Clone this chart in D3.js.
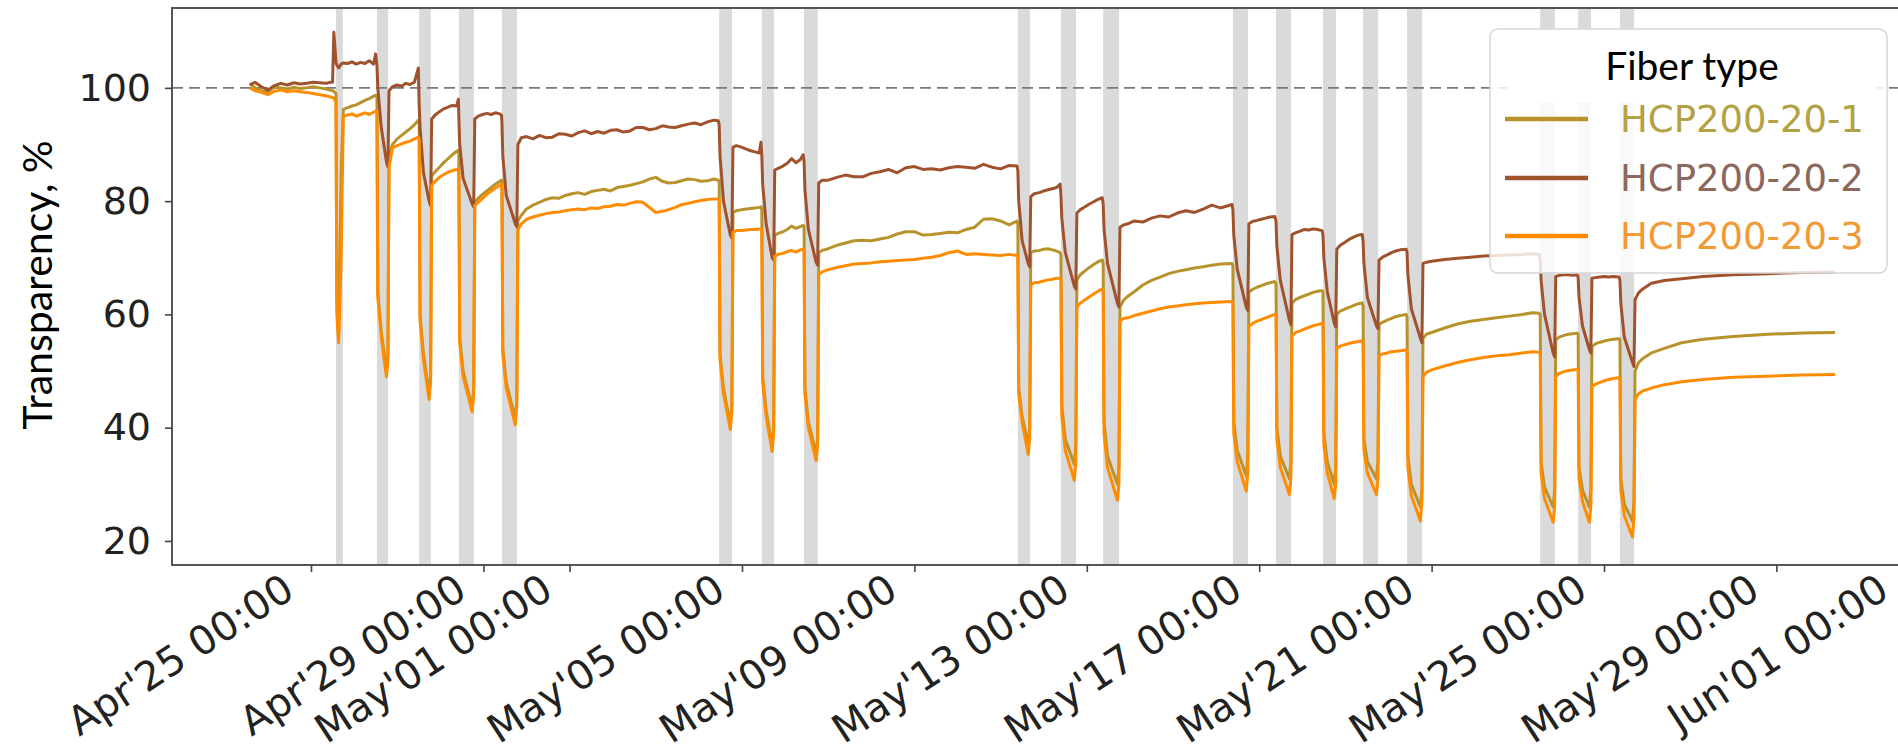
<!DOCTYPE html>
<html><head><meta charset="utf-8">
<script src="https://cdn.jsdelivr.net/npm/d3@7"></script>
<style>body{margin:0;background:#fff;} svg{display:block;}</style>
</head><body><svg id="chart" width="1898" height="754"></svg>
<script>
// ---------------- DATA ----------------
const seriesNames = ["HCP200-20-1", "HCP200-20-2", "HCP200-20-3"];

// time, in days after Apr 25 00:00
const days = [
  -1.42,-1.3,-1.15,-1.0,-0.85,-0.7,-0.55,-0.4,-0.25,-0.1,0.05,0.2,0.35,0.45,
  0.50,0.53,0.58,0.60,0.64,0.70,0.75,
  0.85,0.95,1.05,1.15,1.25,1.35,1.45,1.50,
  1.53,1.55,1.63,1.75,1.785,1.81,1.89,
  2.0,2.1,2.2,2.3,2.4,2.49,
  2.51,2.53,2.61,2.74,2.775,2.80,2.88,
  2.98,3.08,3.18,3.28,3.38,3.42,
  3.43,3.45,3.53,3.74,3.775,3.80,3.88,
  3.98,4.08,4.18,4.28,4.38,4.42,
  4.43,4.45,4.53,4.74,4.775,4.80,4.88,
  5.0,5.15,5.3,5.45,5.6,5.75,5.9,6.05,6.2,6.35,6.5,6.65,6.8,6.95,7.1,7.25,7.4,7.55,7.7,7.85,8.0,8.15,8.3,8.45,8.6,8.75,8.9,9.05,9.2,9.35,9.45,
  9.47,9.49,9.57,9.73,9.765,9.79,9.87,
  10.0,10.1,10.2,10.3,10.4,10.44,
  10.46,10.48,10.56,10.70,10.735,10.76,10.84,
  10.95,11.05,11.15,11.25,11.35,11.42,
  11.44,11.46,11.54,11.72,11.755,11.78,11.86,
  12.0,12.2,12.4,12.6,12.8,13.0,13.2,13.4,13.6,13.8,14.0,14.2,14.4,14.6,14.8,15.0,15.2,15.4,15.6,15.8,16.0,16.2,16.38,
  16.40,16.42,16.50,16.64,16.675,16.70,16.78,
  16.9,17.0,17.1,17.2,17.3,17.38,
  17.40,17.42,17.50,17.71,17.745,17.77,17.85,
  17.96,18.06,18.16,18.26,18.36,
  18.38,18.40,18.48,18.71,18.745,18.77,18.85,
  18.95,19.1,19.3,19.5,19.7,19.9,20.1,20.3,20.5,20.7,20.9,21.1,21.37,
  21.39,21.41,21.49,21.70,21.735,21.76,21.84,
  21.95,22.05,22.15,22.25,22.36,
  22.39,22.41,22.49,22.70,22.735,22.76,22.84,
  22.95,23.05,23.15,23.25,23.35,23.46,
  23.48,23.50,23.58,23.74,23.775,23.80,23.88,
  24.0,24.1,24.2,24.3,24.39,
  24.41,24.43,24.51,24.72,24.755,24.78,24.86,
  24.97,25.07,25.17,25.27,25.41,
  25.43,25.45,25.53,25.74,25.775,25.80,25.88,
  26.0,26.3,26.6,26.9,27.2,27.5,27.8,28.1,28.35,28.5,
  28.52,28.54,28.62,28.82,28.855,28.88,28.96,
  29.07,29.17,29.27,29.38,
  29.40,29.42,29.50,29.66,29.695,29.72,29.80,
  29.91,30.01,30.11,30.21,30.35,
  30.37,30.39,30.47,30.66,30.695,30.72,30.80,
  30.9,31.1,31.4,31.8,32.3,33.0,33.8,34.6,35.36
];

// HCP200-20-1 (gold)
const hcp1 = [
  100.8,100.0,99.5,99.2,100.2,100.0,99.8,100.1,99.9,100.0,100.2,100.0,99.8,99.6,
  99.5,99.4,99,62,56,85,96.2,
  96.5,96.8,97.0,97.4,97.8,98.1,98.5,98.7,
  98.5,64,57,50,53,88,90,
  91.0,91.6,92.2,92.8,93.5,94.3,
  93.5,60,53,46,49,84.5,85.2,
  86.0,86.8,87.5,88.2,88.8,89.0,
  88.5,56,50,43.5,47,79.8,80.5,
  81.2,81.8,82.4,83.0,83.5,83.7,
  83.5,54,48,41.5,45,76.5,77.5,
  78.6,79.3,79.8,80.3,80.6,80.5,81.0,81.3,81.5,81.2,81.7,81.9,82.1,81.8,82.4,82.6,82.8,83.1,83.4,83.9,84.2,83.5,83.2,83.3,83.6,83.9,83.8,83.5,83.6,83.9,83.7,
  83.5,53,47,40.5,44,78,78.3,
  78.5,78.6,78.7,78.8,78.9,79.0,
  78.5,49,43,37,40,74,74.3,
  74.6,75.0,75.6,75.2,75.5,75.7,
  75.5,47,41,35.5,38,70.9,71.3,
  71.6,72.2,72.6,73.0,73.1,73.0,73.3,73.6,74.2,74.6,74.6,74.0,74.1,74.3,74.5,74.4,75.0,75.4,76.8,76.9,76.5,75.8,76.5,
  76,47,42,37,40,70.9,71.2,
  71.3,71.5,71.6,71.4,71.2,70.9,
  70.5,44,38,33.5,37,66.1,67,
  67.7,68.3,68.8,69.3,69.6,
  69,41,35,30,33,61.3,62.5,
  63.2,64.0,65.2,66.0,66.6,67.2,67.6,67.9,68.2,68.4,68.7,68.9,69.0,
  68.5,41,36,31.5,35,63.9,64.4,
  64.8,65.1,65.4,65.6,65.8,
  65.5,40,35,31,34,62,62.6,
  63.0,63.3,63.6,63.9,64.1,64.2,
  64,39,34,30,33,60,60.6,
  61.0,61.3,61.6,61.9,62.0,
  61.5,38,34,31,34,58.2,58.6,
  59.0,59.3,59.6,59.8,60.0,
  59.5,35,30,26,29,55.8,56.5,
  56.8,57.6,58.3,58.8,59.1,59.4,59.7,60.0,60.3,60.2,
  60,34,29.5,26,29,55.5,56,
  56.3,56.5,56.6,56.7,
  56.5,33,29,26,29,54.3,54.8,
  55.1,55.3,55.5,55.6,55.7,
  55.5,31,26.5,23.5,27,50,51.5,
  52.2,53.2,54.0,55.0,55.6,56.1,56.5,56.7,56.8
];

// HCP200-20-2 (brown)
const hcp2 = [
  100.5,101.0,100.2,99.6,100.4,100.8,100.5,100.9,100.7,100.8,101.0,100.9,100.8,101.0,
  101,109.8,104.5,104,103.5,104.2,104.4,
  104.3,104.6,104.2,104.5,104.3,104.8,104.2,106.0,
  104,100,93,87,86,99.5,100.2,
  100.5,100.3,100.8,100.6,101.0,103.5,
  97,93,85,80,79.2,94.5,95.2,
  95.8,96.3,96.6,96.9,96.8,98.0,
  95,90,84,79.5,79,94.5,95,
  95.3,95.5,95.3,95.6,95.4,95.2,
  94,88,81,76,75.5,90,91.2,
  91.4,91.0,91.6,91.2,91.3,91.9,91.8,91.5,92.1,92.4,91.9,92.3,92.0,92.5,92.6,92.2,92.4,93.0,93.0,92.6,92.8,93.3,93.1,93.0,93.3,93.6,93.8,93.5,94.0,94.3,94.2,
  93.5,88,80,74,73.5,89.5,89.8,
  89.5,89.2,88.9,88.7,88.5,90.4,
  88,83,76,70,69.6,85.5,85.8,
  86.2,86.7,87.5,86.8,87.3,88.2,
  87,82,75,69.2,68.7,83.2,83.7,
  83.7,84.2,84.6,84.3,84.3,84.9,85.2,85.6,85.0,85.9,86.1,85.6,85.7,85.5,85.9,86.1,86.0,85.8,86.5,86.0,85.7,86.3,86.2,
  85.5,80,73,69,68.4,80.8,81.3,
  81.5,81.8,82.0,82.2,82.4,83.0,
  81,77,71,65,64.5,77.9,78.5,
  79.0,79.5,79.9,80.3,80.6,
  79.5,75,69,62,61.3,75.4,75.8,
  76.0,76.5,76.3,77.0,77.4,77.2,77.9,78.3,78.0,78.6,79.3,78.8,79.4,
  78.5,74,68,61.3,60.7,76,76.4,
  76.6,76.8,77.0,77.2,77.3,
  76.5,72,66,59,58.2,74.1,74.4,
  74.7,75.0,74.9,75.1,75.0,74.8,
  74,70,64,58.5,57.8,71.5,72.2,
  72.8,73.3,73.7,74.0,74.1,
  73,69,63,58,57.5,69.6,70.1,
  70.5,70.9,71.2,71.4,71.5,
  71,67,61,55.8,55,69,69.2,
  69.4,69.7,69.9,70.1,70.3,70.4,70.5,70.6,70.7,70.6,
  69.5,66,60,53.2,52.5,66.7,66.9,
  67.0,67.0,66.9,67.0,
  66.5,63,58,53.8,53.2,66.4,66.5,
  66.6,66.7,66.6,66.7,66.6,
  66,62,56,51.5,50.8,62.6,63.8,
  64.5,65.5,66.0,66.3,66.7,67.0,67.2,67.4,67.5
];

// HCP200-20-3 (orange)
const hcp3 = [
  100.0,99.5,99.2,98.8,99.4,99.6,99.3,99.5,99.3,99.2,99.0,98.8,98.6,98.4,
  98.3,98.2,97.5,60,55,70,95.0,
  95.2,95.4,95.0,95.3,95.6,95.3,95.7,95.9,
  95.8,63,56,49,52,86,89.4,
  89.8,90.1,90.4,90.6,91.0,91.3,
  91,59,52,45,48,82.8,83.5,
  84.2,84.7,85.1,85.4,85.6,85.7,
  85.4,55,49,42.8,46,79.2,79.8,
  80.5,81.2,81.8,82.3,82.8,83.0,
  82.8,53,47,40.5,44,75,76,
  76.8,77.2,77.5,77.8,78.0,78.1,78.3,78.5,78.6,78.5,78.8,78.7,79.0,79.1,79.4,79.3,79.6,79.9,79.8,78.9,78.0,78.2,78.5,78.9,79.4,79.6,79.9,80.1,80.3,80.4,80.4,
  80.3,52,46,39.7,43,74.5,74.8,
  74.8,74.9,75.0,75.0,75.1,75.1,
  75,48,42,35.8,39,70.3,70.6,
  70.8,71.1,71.3,71.0,71.4,71.5,
  71.4,46,40,34.2,37,67.1,67.5,
  67.9,68.3,68.6,68.9,69.0,69.1,69.3,69.4,69.5,69.6,69.7,69.9,70.1,70.4,70.9,71.2,70.6,70.7,70.6,70.5,70.4,70.6,70.4,
  70.3,46,41,35.3,38,65.2,65.6,
  65.7,65.9,66.1,66.2,66.4,66.4,
  66.2,42,36,30.7,34,61.3,62,
  62.6,63.1,63.6,64.1,64.5,
  64.3,39,33,27.2,30,58.8,59.3,
  59.4,59.8,60.2,60.6,61.0,61.3,61.5,61.7,61.9,62.0,62.1,62.2,62.3,
  62,39,34,28.8,32,57.8,58.4,
  58.8,59.1,59.4,59.7,60.0,
  59.8,38,33,28.2,31,56.2,56.8,
  57.1,57.4,57.7,58.0,58.2,58.4,
  58.3,37,32,27.5,30,54,54.4,
  54.7,54.9,55.1,55.2,55.3,
  55,36,32,28.2,31,52.7,53.0,
  53.2,53.4,53.5,53.6,53.7,
  53.3,33,28,23.5,27,49,49.8,
  50.2,50.9,51.5,52.0,52.4,52.7,52.9,53.2,53.4,53.3,
  53.2,32,27.5,23.3,26,49,49.6,
  49.9,50.1,50.2,50.3,
  50.2,31,27,23.3,26,47.2,47.7,
  48.0,48.3,48.5,48.7,48.8,
  48.6,29,24.5,20.7,24,45,46,
  46.5,47.0,47.6,48.1,48.5,48.9,49.1,49.3,49.4
];

// grey shaded periods, days after Apr 25 00:00
const bandStart = [0.58,1.53,2.51,3.43,4.43,9.47,10.46,11.44,16.40,17.40,18.38,21.39,22.39,23.48,24.41,25.43,28.52,29.40,30.37];
const bandEnd   = [0.74,1.79,2.78,3.78,4.78,9.77,10.74,11.76,16.68,17.75,18.75,21.74,22.74,23.78,24.76,25.78,28.86,29.70,30.70];

const yTicks = [20, 40, 60, 80, 100];
const xTickDates = ["2021-04-25","2021-04-29","2021-05-01","2021-05-05","2021-05-09","2021-05-13",
                    "2021-05-17","2021-05-21","2021-05-25","2021-05-29","2021-06-01"];
const refLevel = 100;

// ---------------- CHART ----------------
const colors = ["#b8932c", "#a0522d", "#ff8c00"];
const labelColors = ["#b3a245", "#8c675c", "#f29a35"];
const svg = d3.select("#chart");
const L = 172, T = 8, B = 565, R = 1930;
const DAY = 86400000;
const base = Date.UTC(2021, 3, 25);
const toDate = d => new Date(base + d * DAY);

const x = d3.scaleUtc()
  .domain([new Date(base), new Date(Date.UTC(2021, 5, 1))])
  .range([311, 311 + 37 * 43.1]);
const y = d3.scaleLinear().domain([15.76, 114.1]).range([B, T]);

svg.append("defs").append("clipPath").attr("id", "clip")
  .append("rect").attr("x", L).attr("y", T).attr("width", R - L).attr("height", B - T);

const plot = svg.append("g").attr("clip-path", "url(#clip)");

// bands
plot.selectAll("rect.band").data(bandStart.map((s, i) => [s, bandEnd[i]]))
  .enter().append("rect").attr("class", "band")
  .attr("x", d => x(toDate(d[0])))
  .attr("width", d => x(toDate(d[1])) - x(toDate(d[0])))
  .attr("y", T).attr("height", B - T)
  .attr("fill", "#dadada");

// reference line
plot.append("line")
  .attr("x1", L).attr("x2", R).attr("y1", y(refLevel)).attr("y2", y(refLevel))
  .attr("stroke", "#7a7a7a").attr("stroke-width", 1.8).attr("stroke-dasharray", "11,6");

// series
const seriesVals = [hcp1, hcp2, hcp3];
const line = d3.line().x(d => x(toDate(d[0]))).y(d => y(d[1]));
seriesVals.forEach((vals, i) => {
  const pts = days.map((d, k) => [d, vals[k]]).filter(p => p[1] !== undefined);
  plot.append("path").datum(pts)
    .attr("d", line).attr("fill", "none")
    .attr("stroke", colors[i]).attr("stroke-width", 3)
    .attr("stroke-linejoin", "round");
});

// frame
svg.append("rect").attr("x", L).attr("y", T).attr("width", R - L).attr("height", B - T)
  .attr("fill", "none").attr("stroke", "#555").attr("stroke-width", 2);

// x axis
const fmt = d3.utcFormat("%b'%d %H:%M");
const xAxis = svg.append("g").attr("transform", `translate(0,${B})`)
  .call(d3.axisBottom(x).tickValues(xTickDates.map(s => new Date(s + "T00:00:00Z")))
    .tickFormat(fmt).tickSize(7));
xAxis.select(".domain").remove();
xAxis.selectAll(".tick line").attr("stroke", "#444").attr("stroke-width", 1.6);
xAxis.selectAll(".tick text")
  .attr("x", 0).attr("y", 0).attr("dy", 0)
  .attr("transform", "translate(-15,31) rotate(-33)")
  .attr("text-anchor", "end")
  .attr("fill", "#222")
  .style("font-family", "'DejaVu Sans', sans-serif").style("font-size", "40px");

// y axis
const yAxis = svg.append("g").attr("transform", `translate(${L},0)`)
  .call(d3.axisLeft(y).tickValues(yTicks).tickSize(7).tickPadding(14));
yAxis.select(".domain").remove();
yAxis.selectAll(".tick line").attr("stroke", "#444").attr("stroke-width", 1.6);
yAxis.selectAll(".tick text").attr("fill", "#222")
  .style("font-family", "'DejaVu Sans', sans-serif").style("font-size", "38px");

// y label
svg.append("text").text("Transparency, %")
  .attr("transform", "translate(52,285) rotate(-90)")
  .attr("text-anchor", "middle").attr("fill", "#000")
  .style("font-family", "Lato, 'Open Sans', sans-serif").style("font-size", "41px");

// legend
const lg = svg.append("g");
lg.append("rect").attr("x", 1490).attr("y", 29).attr("width", 397).attr("height", 244)
  .attr("rx", 8).attr("fill", "#fff").attr("fill-opacity", 0.82)
  .attr("stroke", "#d6d6d6").attr("stroke-width", 1.5);
lg.append("rect").attr("x", 1507).attr("y", 30).attr("width", 370).attr("height", 72).attr("fill", "#fff");
lg.append("text").text("Fiber type").attr("x", 1692).attr("y", 80)
  .attr("text-anchor", "middle").attr("fill", "#000")
  .style("font-family", "Lato, 'Open Sans', sans-serif").style("font-size", "39px");
const hy = [119, 178, 236];
seriesNames.forEach((name, i) => {
  lg.append("line").attr("x1", 1505).attr("x2", 1588).attr("y1", hy[i]).attr("y2", hy[i])
    .attr("stroke", colors[i]).attr("stroke-width", 4.5);
  lg.append("text").text(name).attr("x", 1620).attr("y", hy[i]).attr("dy", "0.36em")
    .attr("fill", labelColors[i])
    .style("font-family", "'DejaVu Sans', sans-serif").style("font-size", "37px");
});
</script></body></html>
